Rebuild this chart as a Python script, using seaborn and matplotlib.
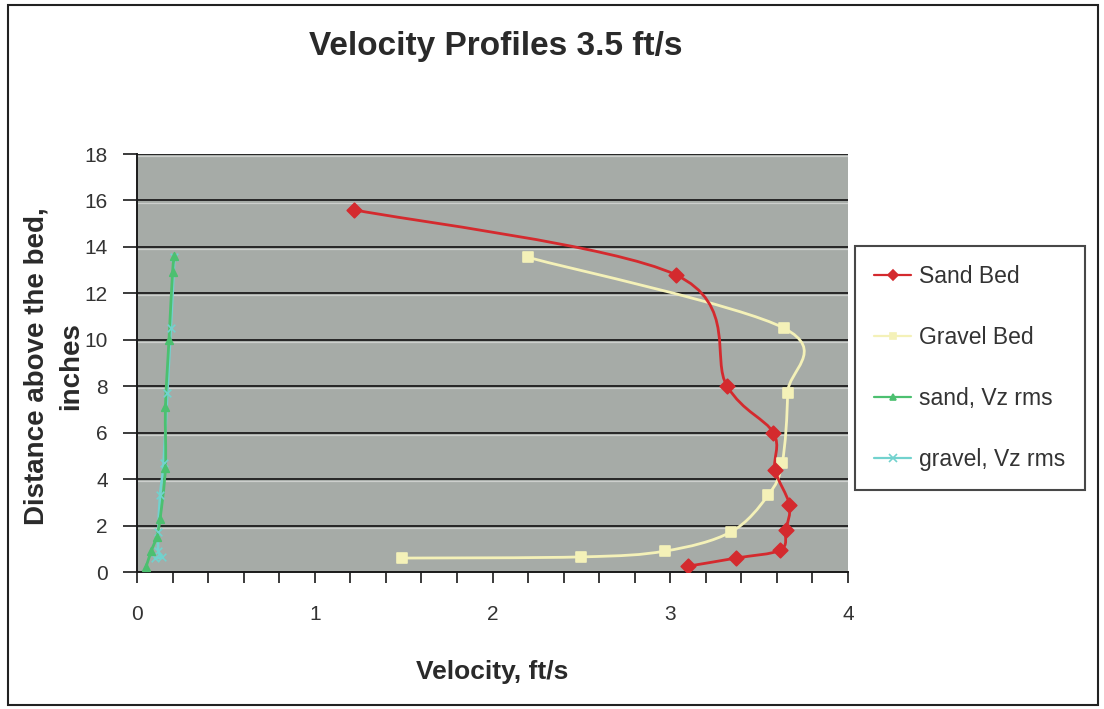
"""Velocity profiles at 3.5 ft/s: sand vs gravel bed, with vertical rms."""

import matplotlib

matplotlib.use("Agg")
import matplotlib.pyplot as plt
import numpy as np
import seaborn as sns
from matplotlib.lines import Line2D
from matplotlib.patches import PathPatch, Rectangle
from matplotlib.path import Path
from matplotlib.ticker import MultipleLocator

# ── Data ──
sand_vel = [1.22, 3.03, 3.32, 3.58, 3.59, 3.67, 3.65, 3.62, 3.37, 3.10]
sand_z = [15.6, 12.8, 8.0, 6.0, 4.4, 2.9, 1.8, 0.95, 0.6, 0.25]

gravel_vel = [2.20, 3.64, 3.66, 3.63, 3.55, 3.34, 2.97, 2.50, 1.49]
gravel_z = [13.55, 10.5, 7.7, 4.7, 3.3, 1.72, 0.9, 0.65, 0.6]

sand_rms = [0.21, 0.20, 0.18, 0.16, 0.16, 0.13, 0.11, 0.08, 0.05]
sand_rms_z = [13.6, 12.9, 10.0, 7.1, 4.5, 2.3, 1.5, 0.9, 0.2]

gravel_rms = [0.21, 0.19, 0.17, 0.15, 0.13, 0.12, 0.12, 0.14, 0.10]
gravel_rms_z = [13.55, 10.5, 7.7, 4.7, 3.3, 1.72, 0.9, 0.65, 0.6]

labels = ["Sand Bed", "Gravel Bed", "sand, Vz rms", "gravel, Vz rms"]
colors = ["#D42A2E", "#F4F1B8", "#4CC070", "#72D2CE"]
markers = ["D", "s", "^", "x"]


def smooth_path(xs, ys):
    """Excel-style smoothed line: Catmull-Rom segments as cubic Beziers."""
    pts = np.column_stack([xs, ys]).astype(float)
    ext = np.vstack([pts[0], pts, pts[-1]])
    verts = [pts[0]]
    codes = [Path.MOVETO]
    for i in range(1, len(ext) - 2):
        p0, p1, p2, p3 = ext[i - 1], ext[i], ext[i + 1], ext[i + 2]
        verts += [p1 + (p2 - p0) / 6, p2 - (p3 - p1) / 6, p2]
        codes += [Path.CURVE4] * 3
    return Path(verts, codes)


sns.set_theme(style="white")
plt.rcParams["font.family"] = ["Liberation Sans", "DejaVu Sans"]

fig = plt.figure(figsize=(11.04, 7.09), dpi=100)
ax = fig.add_axes([137 / 1104, 1 - 572 / 709, (848 - 137) / 1104, (572 - 154) / 709])
ax.set_facecolor("#A6ABA7")

ax.set_xlim(0, 4)
ax.set_ylim(0, 18)

# gridlines with the faint light edge under each one
for g in range(2, 19, 2):
    ax.axhline(g, color="#262626", lw=1.4, zorder=1)
    ax.axhline(g - 0.09, color="#E8E8E8", lw=0.9, alpha=0.6, zorder=1)

series = [
    (sand_vel, sand_z),
    (gravel_vel, gravel_z),
    (sand_rms, sand_rms_z),
    (gravel_rms, gravel_rms_z),
]
draw_order = [3, 2, 1, 0]
sizes = [55, 55, 30, 30]
for i in draw_order:
    xs, ys = series[i]
    ax.add_patch(PathPatch(smooth_path(xs, ys), fill=False, edgecolor=colors[i],
                           lw=2.0, zorder=3))
    sns.scatterplot(x=xs, y=ys, ax=ax, marker=markers[i], color=colors[i],
                    s=sizes[i], edgecolor=colors[i] if markers[i] != "x" else None,
                    linewidth=1.2, zorder=4, legend=False)

# axes styling
for side in ("top", "right"):
    ax.spines[side].set_visible(False)
for side in ("left", "bottom"):
    ax.spines[side].set_color("#1a1a1a")
    ax.spines[side].set_linewidth(1.4)

ax.xaxis.set_major_locator(MultipleLocator(1))
ax.xaxis.set_minor_locator(MultipleLocator(0.2))
ax.yaxis.set_major_locator(MultipleLocator(2))
ax.tick_params(axis="x", which="both", direction="out", length=8, width=1.2,
               color="#1a1a1a", bottom=True)
ax.tick_params(axis="x", which="major", labelsize=15, pad=16, labelcolor="#333333")
ax.tick_params(axis="y", which="major", direction="out", length=10, width=1.2,
               color="#1a1a1a", left=True, labelsize=15, pad=11, labelcolor="#333333")

fig.text(0.449, 1 - 47 / 709, "Velocity Profiles 3.5 ft/s", ha="center", va="center",
         fontsize=24, fontweight="bold", color="#2a2a2a")
fig.text(0.446, 1 - 672 / 709, "Velocity, ft/s", ha="center", va="center",
         fontsize=19, fontweight="bold", color="#2a2a2a")
fig.text(54 / 1104, 1 - 366 / 709, "Distance above the bed,\ninches", rotation=90,
         ha="center", va="center", multialignment="center", linespacing=1.45,
         fontsize=20, fontweight="bold", color="#2a2a2a")

handles = [
    Line2D([], [], color=c, marker=m, markersize=5 if m != "x" else 6, lw=1.6,
           markeredgewidth=1.2)
    for c, m in zip(colors, markers)
]
leg = fig.legend(handles, labels, loc="center left",
                 bbox_to_anchor=(855 / 1104, 1 - 368 / 709), fontsize=16.5,
                 labelspacing=1.65, handlelength=1.6, handletextpad=0.35,
                 borderpad=0.85, borderaxespad=0, fancybox=False, frameon=True)
leg.get_frame().set_edgecolor("#1a1a1a")
leg.get_frame().set_linewidth(1.5)
leg.get_frame().set_facecolor("white")
for t in leg.get_texts():
    t.set_color("#333333")

# outer chart border
fig.patches.append(Rectangle((8 / 1104, 4 / 709), 1090 / 1104, 700 / 709,
                             transform=fig.transFigure, fill=False,
                             edgecolor="#222222", lw=1.5))

fig.savefig("out.png", dpi=100)
plt.close(fig)
